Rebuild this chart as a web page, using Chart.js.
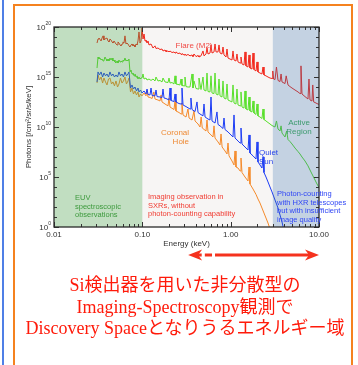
<!DOCTYPE html>
<html><head><meta charset="utf-8">
<script src="https://cdn.jsdelivr.net/npm/chart.js@4.4.1/dist/chart.umd.min.js"></script>
<style>
html,body{margin:0;padding:0;background:#fff;width:358px;height:365px;overflow:hidden;}
#wrap{position:relative;width:358px;height:365px;}
#bline{position:absolute;left:2px;top:0;width:2px;height:365px;background:#4f7fe6;}
#frame{position:absolute;left:13px;top:4px;width:336px;height:420px;border:2px solid #f5821f;}
canvas{position:absolute;left:0;top:0;}
#caption{position:absolute;left:14px;width:342px;top:275px;text-align:center;color:#ff1a0a;
 font-family:'Liberation Serif','Noto Sans CJK JP',serif;font-size:18px;line-height:21.5px;white-space:nowrap;}
</style></head>
<body><div id="wrap">
<div id="bline"></div><div id="frame"></div>
<canvas id="c" width="358" height="365"></canvas>
<div id="caption">Si検出器を用いた非分散型の<br>Imaging-Spectroscopy観測で<br>Discovery Spaceとなりうるエネルギー域</div>
</div>
<script>
// ---- axes ----
const energyTicks = [0.01, 0.1, 1, 10];
const energyTickLabels = ['0.01', '0.10', '1.00', '10.00'];
const photonTicks = [1, 1e5, 1e10, 1e15, 1e20];
const photonTickExponents = ['0', '5', '10', '15', '20'];
const regionEdges = [0.01, 0.1, 3, 10];          // EUV | SXR imaging | HXR photon counting
const arrowEnergies = [0.33, 0.47, 0.51, 0.615, 0.665, 10];

// ---- spectra: [energy keV, photons /cm2/sr/s/keV] ----
const flareM2 = [
[0.0307,2.5e18],[0.0315,6.3e18],[0.0323,7.9e18],[0.0341,4e18],[0.035,7.9e18],[0.0359,1.3e19],[0.0368,5e18],[0.0378,6.3e18],
[0.0398,7.9e18],[0.0409,4e18],[0.0419,3.2e18],[0.043,6.3e18],[0.0442,5e18],[0.0454,3.2e18],[0.0465,2.5e18],[0.0478,4e18],
[0.049,4e18],[0.0503,2e18],[0.0517,1.6e18],[0.053,3.2e18],[0.0544,2.5e18],[0.0559,1.6e18],[0.0573,1.3e18],[0.0589,2e18],
[0.0604,3.2e18],[0.062,2.5e18],[0.0636,1.3e19],[0.0653,2e18],[0.067,2.5e18],[0.0688,2e18],[0.0706,1.3e18],[0.0725,1e18],
[0.0744,1.6e18],[0.0764,2e18],[0.0784,1.3e18],[0.0805,1.6e18],[0.0826,1e18],[0.0848,2e18],[0.087,1.6e18],[0.0893,4e18],
[0.0917,3.2e19],[0.0941,2.5e18],[0.0966,4e18],[0.0992,7.9e19],[0.1018,6.3e18],[0.1045,2e19],[0.1072,4e18],
[0.11,5e18],[0.113,2.5e18],[0.116,4e18],[0.119,1.6e18],[0.1254,2e18],[0.1321,7.9e17],[0.1391,1.3e18],[0.1428,7.1e17],
[0.1504,7.9e17],[0.1585,5.6e17],[0.167,6.3e17],[0.1714,4e17],[0.1806,5e17],[0.1853,3.5e17],[0.1953,4e17],[0.2004,3.2e17],
[0.2057,4e17],[0.2167,2.8e17],[0.2283,3.2e17],[0.2344,2.5e17],[0.2405,3.2e17],[0.2534,2.2e17],[0.267,2.5e17],[0.274,1.8e17],
[0.2812,2.2e17],[0.2963,1.6e17],[0.3041,2e17],[0.3121,1.4e17],[0.3288,1.8e17],[0.3465,1.3e17],[0.365,1.6e17],[0.3746,1.1e17],
[0.3846,2e17],[0.4052,1.1e17],[0.4268,1.4e17],[0.438,1e17],[0.4616,1.3e17],[0.4863,4e17],[0.4991,1.3e17],[0.5258,2e17],
[0.5397,7.9e17],[0.554,2e17],[0.5836,2.5e17],[0.5991,1.6e18],[0.6149,2.5e17],[0.6478,3.2e17],[0.665,2e18],[0.6826,3.2e17],
[0.7191,3.2e17],[0.7379,1.6e18],[0.7574,2.5e17],[0.7979,2e17],[0.819,1e18],[0.8406,1.6e17],[0.8855,1e17],[0.909,6.3e17],
[0.9329,7.9e16],[0.9829,6.3e16],[1.035,5e16],[1.063,4e17],[1.091,5e16],[1.149,4e16],[1.179,2e17],[1.211,3.2e16],
[1.276,2.5e16],[1.309,1e17],[1.344,2e16],[1.416,1.6e16],[1.453,3.2e17],[1.491,1.3e16],[1.571,1e16],[1.613,1.6e17],
[1.655,7.9e15],[1.744,6.3e15],[1.79,2.5e17],[1.837,5.6e15],[1.936,4e15],[1.987,3.2e16],[2.039,3.2e15],[2.148,2.5e15],
[2.263,2e15],[2.323,1e16],[2.384,1.6e15],[2.512,1.3e15],[2.647,1e15],[2.788,7.9e14],[2.938,7.1e14],[3.0,4e15],
[3.06,6.3e14],[3.177,5.6e14],[3.3,1e16],[3.436,4.5e14],[3.619,3.5e14],[3.72,2e15],[3.812,3.2e14],[4.123,2.2e14],
[4.25,1.3e15],[4.458,1.6e14],[4.697,1.1e14],[4.947,7.9e13],[5.35,5e13],[5.785,3.2e13],[6.095,2.2e13],[6.25,1.3e16],
[6.42,2e13],[6.941,1.1e13],[7.507,6.3e12],[7.7,6.3e14],[7.909,5e12],[8.332,4e12],[8.5,1.6e14],[8.7,3.2e12],
[9.01,2.8e12],[9.493,2.2e12],[10,1.8e12]];

const activeRegion = [
[0.0307,7.9e15],[0.0315,1e17],[0.0323,6.3e16],[0.0332,7.9e16],[0.0341,5e16],[0.035,6.3e16],[0.0359,4e16],[0.0368,5e16],
[0.0378,1e17],[0.0388,6.3e16],[0.0398,4e16],[0.0409,6.3e16],[0.0419,4e16],[0.043,7.9e16],[0.0442,5e16],[0.0454,7.9e16],
[0.0465,4e16],[0.0478,5e16],[0.049,3.2e16],[0.0503,2.5e16],[0.0517,4e16],[0.053,2.5e16],[0.0544,5e16],[0.0559,3.2e16],
[0.0573,4e16],[0.0589,3.2e16],[0.0604,5e16],[0.062,4e16],[0.0636,7.9e16],[0.0653,4e16],[0.067,5e16],[0.0688,4e16],
[0.0706,6.3e16],[0.0725,3.2e15],[0.0744,5e15],[0.0764,2e15],[0.0784,2.5e15],[0.0805,1.3e15],[0.0826,2e15],[0.0848,1e15],
[0.087,1.3e15],[0.0893,6.3e14],[0.0917,1e15],[0.0941,6.3e14],[0.0966,7.9e14],
[0.0992,7.9e14],[0.1018,2e15],[0.1045,6.3e14],[0.11,7.9e14],[0.113,5e14],[0.119,6.3e14],[0.1254,4.5e14],[0.1321,6.3e14],
[0.1391,4e14],[0.1428,1e15],[0.1504,4e14],[0.1585,4.5e14],[0.167,3.2e14],[0.1714,7.9e14],[0.1806,3.2e14],[0.1953,2.8e14],
[0.2004,7.9e14],[0.2057,2.5e14],[0.2167,2.8e14],[0.2283,2e14],[0.2344,1.3e15],[0.2405,2e14],[0.2534,1.8e14],[0.267,1.6e14],
[0.274,6.3e14],[0.2812,1.4e14],[0.2963,1.3e14],[0.3041,1e15],[0.3121,1.1e14],[0.3288,1e14],[0.3465,1e14],[0.365,2e15],
[0.3746,7.9e13],[0.3846,4e14],[0.4052,7.1e13],[0.4268,6.3e13],[0.438,7.9e14],[0.4616,5.6e13],[0.4863,1e15],[0.4991,5e13],
[0.5258,4e13],[0.5397,2.5e15],[0.554,3.5e13],[0.5836,3.2e13],[0.5991,1.3e15],[0.6149,2.5e13],[0.6478,2.2e13],[0.665,2.5e15],
[0.6826,2e13],[0.7191,1.6e13],[0.7379,6.3e14],[0.7574,1.3e13],[0.7979,1e13],[0.819,4e14],[0.8406,7.9e12],[0.8855,6.3e12],
[0.909,2e14],[0.9329,5e12],[0.9829,4e12],[1.035,3.2e12],[1.063,1.6e14],[1.091,2.5e12],[1.149,2e12],[1.179,6.3e13],
[1.211,1.6e12],[1.276,1.3e12],[1.309,3.2e13],[1.344,1e12],[1.416,7.9e11],[1.453,4e13],[1.491,6.3e11],[1.571,5e11],
[1.613,1e13],[1.655,4e11],[1.744,3.2e11],[1.79,4e12],[1.837,2.5e11],[1.936,1.8e11],[1.987,2e12],[2.039,1.3e11],
[2.148,1e11],[2.263,7.1e10],[2.323,6.3e11],[2.384,5.6e10],[2.512,4e10],[2.647,2.8e10],[2.788,2e10],[2.938,1.4e10],
[3.177,1e10],[3.3,4e10],[3.436,6.3e9],[3.619,4e9],[3.72,1.3e10],[3.812,2.5e9],[4.123,1e9],[4.3,4e9],[4.458,5.6e8],
[4.697,3.5e8],[4.947,2e8],[5.35,7.9e7],[5.785,3.5e7],[6.095,2e7],[6.42,1e7],[6.941,4e6],[7.507,1.3e6],[7.909,5e5],
[8.332,2e5],[9.01,5e4],[9.493,2e4],[10,8.9e3]];

const quietSun = [
[0.0307,3.2e14],[0.0315,3.2e15],[0.0327,1.6e15],[0.0341,3.2e15],[0.0355,1e15],[0.0368,2.5e15],[0.0383,1.3e15],[0.0398,2e15],
[0.0414,1e15],[0.043,3.2e15],[0.0448,1.3e15],[0.0465,2e15],[0.0484,1e15],[0.0503,1.6e15],[0.0524,1e15],[0.0544,3.2e15],
[0.0566,1.3e15],[0.0589,2e15],[0.0612,1e15],[0.0636,3.2e15],[0.0661,1.3e15],[0.0688,2e15],[0.0706,3.2e15],[0.0735,7.9e13],
[0.0764,1.6e14],[0.0794,6.3e13],[0.0826,1e14],[0.0859,4e13],[0.0893,7.9e13],[0.0917,3.2e13],[0.0954,5e13],[0.0992,2.5e13],
[0.1045,4e13],[0.11,2e13],[0.113,6.3e13],[0.116,1.8e13],[0.1221,1.6e13],[0.1254,7.9e13],[0.129,1.4e13],[0.1391,1.3e13],
[0.1428,5e13],[0.1467,1.1e13],[0.1585,1e13],[0.167,8.9e12],[0.1714,6.3e13],[0.176,7.9e12],[0.1853,7.1e12],[0.2004,5e12],
[0.2057,7.9e13],[0.211,4.5e12],[0.2283,3.5e12],[0.2344,2e13],[0.2405,3.2e12],[0.26,2.2e12],[0.274,2e12],[0.2812,7.9e13],
[0.289,1.6e12],[0.3121,1.1e12],[0.3465,6.3e11],[0.355,7.9e12],[0.365,5.6e11],[0.395,3.5e11],[0.4158,3.2e12],[0.4268,2.8e11],
[0.4497,2e11],[0.4863,1.3e11],[0.4991,2e12],[0.513,1e11],[0.554,6.3e10],[0.5836,5e10],[0.5991,1e13],[0.6149,4e10],
[0.665,2.5e10],[0.7,3.2e11],[0.7191,1.8e10],[0.7574,1.3e10],[0.819,7.1e9],[0.8406,7.9e10],[0.863,5.6e9],[0.9329,3.2e9],
[0.9829,2e9],[1.063,1e9],[1.091,1.6e11],[1.12,7.9e8],[1.211,4e8],[1.276,2.5e8],[1.309,7.9e9],[1.344,2e8],
[1.453,1e8],[1.571,5e7],[1.613,1.6e9],[1.655,2.5e7],[1.79,1.3e7],[1.936,6.3e6],[1.987,3.2e8],[2.039,3.2e6],
[2.148,1.6e6],[2.263,7.9e5],[2.323,1e7],[2.384,2.8e5],[2.512,1e5],[2.647,3.2e4],[2.788,1e4],[2.938,3.2e3],
[3.177,500],[3.436,79],[3.619,16],[3.812,3.2],[4.0,0.5]];

const coronalHole = [
[0.0307,2.5e14],[0.0315,1.6e15],[0.0327,5e14],[0.0341,1e15],[0.0355,2.5e14],[0.0368,7.9e14],[0.0383,3.2e14],[0.0398,1.6e14],
[0.0414,6.3e14],[0.043,7.9e14],[0.0448,2e14],[0.0465,3.2e14],[0.0484,1.3e14],[0.0503,4e14],[0.0524,1e14],[0.0544,2e14],
[0.0566,7.9e14],[0.0589,2.5e14],[0.0612,4e14],[0.0636,1e15],[0.0661,2e14],[0.0688,4e14],[0.0706,7.9e14],[0.0735,3.2e13],
[0.0764,7.9e13],[0.0794,2e13],[0.0826,4e13],[0.0859,1.6e13],[0.0893,3.2e13],[0.0917,1e13],[0.0954,2e13],[0.0992,1.3e13],
[0.1045,2.5e13],[0.11,1.3e13],[0.113,5e13],[0.116,1e13],[0.1221,8.9e12],[0.129,7.1e12],[0.135,3.2e13],[0.1391,6.3e12],
[0.1504,5e12],[0.1585,4e12],[0.163,1.6e13],[0.167,3.2e12],[0.1806,2e12],[0.1953,1.3e12],[0.2004,7.9e12],[0.2057,1e12],
[0.2283,5.6e11],[0.2344,4e12],[0.2405,4e11],[0.26,2.8e11],[0.274,2e11],[0.2812,2.5e12],[0.289,1.6e11],[0.3121,1e11],
[0.3288,6.3e11],[0.338,7.9e10],[0.365,5e10],[0.3846,4e11],[0.395,4e10],[0.4268,2e10],[0.4497,1e10],[0.463,1e11],
[0.477,7.9e9],[0.5258,4e9],[0.5397,5e10],[0.554,3.2e9],[0.5991,1.6e9],[0.631,1e9],[0.6478,1.3e10],[0.665,7.9e8],
[0.7191,3.2e8],[0.7574,1.6e8],[0.778,2e9],[0.8,1e8],[0.863,4e7],[0.909,2e7],[0.9329,2.5e8],[0.958,1.3e7],
[1.035,4e6],[1.091,1.6e6],[1.12,4e7],[1.149,1e6],[1.211,7.9e5],[1.276,4e5],[1.309,7.9e6],[1.344,2.8e5],
[1.453,1e5],[1.571,4e4],[1.613,1e6],[1.655,2e4],[1.79,6.3e3],[1.936,1.8e3],[2.039,630],[2.148,250],
[2.263,79],[2.384,25],[2.512,7.9],[2.647,2.5],[2.788,0.63]];

const seriesNames = ['Flare (M2)', 'Active Region', 'Quiet Sun', 'Coronal Hole'];
const seriesData = [flareM2, activeRegion, quietSun, coronalHole];
const seriesColors = ['#f2281c', '#58e02a', '#1c3cf5', '#f58a2a'];

const FONT = "'Liberation Sans', Arial, sans-serif";

const notes = [
  {lines: ['Flare (M2)'], e: 0.385, v: 1.3e18, color: '#f04b46', align: 'center', size: 8},
  {lines: ['Active', 'Region'], e: 5.94, v: 2.5e10, color: '#3c9a6e', align: 'center', size: 8},
  {lines: ['Quiet', 'Sun'], e: 2.09, v: 2.5e7, color: '#2a46ea', align: 'left', size: 8},
  {lines: ['Coronal', 'Hole'], e: 0.338, v: 2.5e9, color: '#ee8a35', align: 'right', size: 8},
  {lines: ['EUV', 'spectroscopic', 'observations'], e: 0.0173, v: 7.9e2, color: '#3d9a3d', align: 'left', size: 7.5},
  {lines: ['Imaging observation in', 'SXRs, without', 'photon-counting capability'], e: 0.116, v: 1e3, color: '#f03c32', align: 'left', size: 7.5},
  {lines: ['Photon-counting', 'with HXR telescopes', 'but with insufficient', 'image quality'], e: 3.35, v: 2e3, color: '#3046f5', align: 'left', size: 7.5}
];

function head(ctx, tip, y, dir) {
  ctx.beginPath();
  ctx.moveTo(tip, y);
  ctx.lineTo(tip - dir * 14, y - 5.5);
  ctx.lineTo(tip - dir * 10, y);
  ctx.lineTo(tip - dir * 14, y + 5.5);
  ctx.closePath();
  ctx.fill();
}

const decor = {
  id: 'decor',
  beforeDatasetsDraw(chart) {
    const {ctx, chartArea: a, scales: {x}} = chart;
    ctx.save();
    ctx.fillStyle = '#ffffff';
    ctx.fillRect(a.left, a.top, a.width, a.height);
    const m0 = x.getPixelForValue(regionEdges[1]), m1 = x.getPixelForValue(regionEdges[2]);
    ctx.fillStyle = '#f7f5f4';
    ctx.fillRect(m0, a.top, m1 - m0, a.height);
    ctx.restore();
  },
  afterDatasetsDraw(chart) {
    const {ctx, chartArea: a, scales: {x, y}} = chart;
    ctx.save();
    const g0 = x.getPixelForValue(regionEdges[0]), g1 = x.getPixelForValue(regionEdges[1]);
    ctx.fillStyle = 'rgba(78,160,78,0.35)';
    ctx.fillRect(g0, a.top, g1 - g0, a.height);
    const b0 = x.getPixelForValue(regionEdges[2]), b1 = x.getPixelForValue(regionEdges[3]);
    ctx.fillStyle = 'rgba(58,105,158,0.30)';
    ctx.fillRect(b0, a.top, b1 - b0, a.height);

    ctx.strokeStyle = '#333';
    ctx.lineWidth = 1;
    ctx.beginPath();
    for (let k = -2; k <= 1; k++) {
      for (let m = 1; m <= 9; m++) {
        const v = m * Math.pow(10, k);
        if (v > 10.0001) break;
        const px = Math.round(x.getPixelForValue(v)) + 0.5;
        const L = m === 1 ? 5 : 3;
        ctx.moveTo(px, a.bottom); ctx.lineTo(px, a.bottom - L);
        ctx.moveTo(px, a.top); ctx.lineTo(px, a.top + L);
      }
    }
    for (let e = 0; e <= 20; e++) {
      const py = Math.round(y.getPixelForValue(Math.pow(10, e))) + 0.5;
      const L = e % 5 === 0 ? 5 : 3;
      ctx.moveTo(a.left, py); ctx.lineTo(a.left + L, py);
      ctx.moveTo(a.right, py); ctx.lineTo(a.right - L, py);
    }
    ctx.stroke();
    ctx.lineWidth = 1.3;
    ctx.strokeStyle = '#2a2a2a';
    ctx.strokeRect(a.left, a.top, a.width, a.height);

    ctx.fillStyle = '#333';
    ctx.textBaseline = 'middle';
    photonTicks.forEach((v, i) => {
      const py = y.getPixelForValue(v);
      const exp = photonTickExponents[i];
      ctx.font = '5px ' + FONT;
      const ew = ctx.measureText(exp).width;
      ctx.textAlign = 'left';
      const right = a.left - 3;
      ctx.fillText(exp, right - ew, py - 3.5);
      ctx.font = '8px ' + FONT;
      ctx.textAlign = 'right';
      ctx.fillText('10', right - ew, py + 0.5);
    });

    notes.forEach(n => {
      const px = x.getPixelForValue(n.e), py = y.getPixelForValue(n.v);
      ctx.font = n.size + 'px ' + FONT;
      ctx.fillStyle = n.color;
      ctx.textAlign = n.align;
      ctx.textBaseline = 'middle';
      n.lines.forEach((t, i) => ctx.fillText(t, px, py + i * 8.6));
    });

    const ay = a.bottom + 28;
    const p = arrowEnergies.map(v => x.getPixelForValue(v));
    ctx.strokeStyle = '#f5321e';
    ctx.fillStyle = '#f5321e';
    ctx.lineWidth = 3;
    ctx.beginPath();
    ctx.moveTo(p[0] + 9, ay); ctx.lineTo(p[1], ay);
    ctx.moveTo(p[2], ay); ctx.lineTo(p[3], ay);
    ctx.moveTo(p[4], ay); ctx.lineTo(p[5] - 9, ay);
    ctx.stroke();
    head(ctx, p[0], ay, -1);
    head(ctx, p[5], ay, 1);
    ctx.restore();
  }
};

new Chart(document.getElementById('c'), {
  type: 'line',
  data: {
    datasets: seriesData.map((s, i) => ({
      label: seriesNames[i],
      data: s.map(([e, v]) => ({x: e, y: v})),
      borderColor: seriesColors[i],
      borderWidth: 1,
      pointRadius: 0,
      tension: 0,
      fill: false
    }))
  },
  options: {
    responsive: false,
    animation: false,
    devicePixelRatio: 1,
    layout: {padding: {left: 20, top: 27, right: 39, bottom: 116}},
    plugins: {legend: {display: false}, tooltip: {enabled: false}},
    scales: {
      x: {
        type: 'logarithmic', min: 0.01, max: 10,
        afterBuildTicks: s => { s.ticks = energyTicks.map(v => ({value: v})); },
        afterFit: s => { s.height = 22; },
        ticks: {callback: (v, i) => energyTickLabels[i], font: {size: 8, family: FONT}, color: '#333',
                padding: 3, maxRotation: 0, autoSkip: false},
        grid: {display: false, drawTicks: false},
        border: {display: false},
        title: {display: true, text: 'Energy (keV)', font: {size: 8, family: FONT}, color: '#333', padding: 0}
      },
      y: {
        type: 'logarithmic', min: 1, max: 1e20,
        afterBuildTicks: s => { s.ticks = photonTicks.map(v => ({value: v})); },
        afterFit: s => { s.width = 34; },
        ticks: {display: false},
        grid: {display: false, drawTicks: false},
        border: {display: false},
        title: {display: true, text: 'Photons [/cm²/sr/s/keV]', font: {size: 8, family: FONT}, color: '#333', padding: {top: 4, bottom: 0}}
      }
    }
  },
  plugins: [decor]
});
</script>
</body></html>
